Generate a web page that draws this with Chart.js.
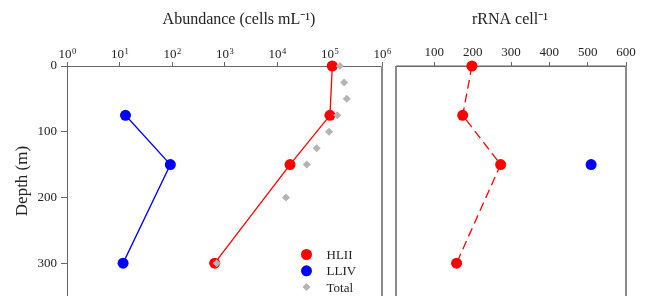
<!DOCTYPE html>
<html lang="en">
<head>
<meta charset="UTF-8">
<title>Abundance and rRNA per cell</title>
<script src="https://cdn.jsdelivr.net/npm/chart.js@4.4.1/dist/chart.umd.min.js"></script>
<style>
  html, body { margin: 0; padding: 0; background: #fff; }
  #wrap { position: relative; width: 648px; height: 296px; overflow: hidden; }
  #abundChart { position: absolute; left: 0; top: 0; }
  #rrnaChart { position: absolute; left: 384px; top: 0; }
</style>
</head>
<body>
<div id="wrap">
  <canvas id="abundChart" width="396" height="296"></canvas>
  <canvas id="rrnaChart" width="264" height="296"></canvas>
</div>
<script>
// depths (m)
const hliiDepths = [0, 75, 150, 300];
const llivDepths = [75, 150, 300];
const totalDepths = [0, 25, 50, 75, 100, 125, 150, 200, 300];
const llivRrnaDepths = [150];

// abundance (cells mL-1)
const hliiAbund = [113000, 102000, 17700, 650];
const llivAbund = [13, 93, 11.7];
const totalAbund = [158000, 190000, 213000, 141000, 98000, 57000, 37000, 14800, 710];

// rRNA per cell
const hliiRrna = [198, 174, 273, 158];
const llivRrna = [509];

// tick labels
const abundTicks = [1, 10, 100, 1000, 10000, 100000, 1000000];
const rrnaTicks = [100, 200, 300, 400, 500, 600];
const depthTicks = [0, 100, 200, 300];

const SERIF = '"Liberation Serif", "Times New Roman", serif';
const RED = '#ff0000', BLUE = '#0000ff', GREY = '#b4b4b4';

const pts = (xs, ys) => xs.map((x, i) => ({x: x, y: ys[i]}));

// side lines of the panel box
const frame = {
  id: 'frame',
  beforeDatasetsDraw(chart, args, opts) {
    const {ctx, chartArea: a} = chart;
    ctx.save();
    (opts.sides || []).forEach(s => {
      ctx.strokeStyle = s.color;
      ctx.lineWidth = s.width;
      ctx.beginPath();
      if (s.side === 'left') { ctx.moveTo(a.left, a.top); ctx.lineTo(a.left, a.bottom); }
      if (s.side === 'right') { ctx.moveTo(a.right, a.top); ctx.lineTo(a.right, a.bottom); }
      if (s.side === 'top') { ctx.moveTo(a.left, a.top); ctx.lineTo(a.right, a.top); }
      ctx.stroke();
    });
    ctx.restore();
  }
};

// panel heading
const heading = {
  id: 'heading',
  afterDraw(chart, args, opts) {
    if (!opts.text) return;
    const ctx = chart.ctx;
    ctx.save();
    ctx.font = '16px ' + SERIF;
    ctx.fillStyle = '#222';
    ctx.textAlign = 'center';
    ctx.textBaseline = 'middle';
    ctx.fillText(opts.text, opts.x, opts.y);
    ctx.restore();
  }
};

// 10^n labels with a real raised exponent
const powerLabels = {
  id: 'powerLabels',
  afterDraw(chart, args, opts) {
    if (!opts.display) return;
    const ctx = chart.ctx, scale = chart.scales.x;
    ctx.save();
    ctx.fillStyle = '#222';
    ctx.textBaseline = 'alphabetic';
    ctx.textAlign = 'left';
    scale.ticks.forEach(t => {
      const exp = String(Math.round(Math.log10(t.value)));
      ctx.font = '13px ' + SERIF;
      const wBase = ctx.measureText('10').width;
      ctx.font = '8.5px ' + SERIF;
      const wExp = ctx.measureText(exp).width;
      const x0 = scale.getPixelForValue(t.value) - (wBase + wExp) / 2;
      ctx.font = '13px ' + SERIF;
      ctx.fillText('10', x0, opts.y);
      ctx.font = '8.5px ' + SERIF;
      ctx.fillText(exp, x0 + wBase + 0.5, opts.y - 4);
    });
    ctx.restore();
  }
};

// legend inside the plot, bottom right
const cornerLegend = {
  id: 'cornerLegend',
  afterDraw(chart, args, opts) {
    if (!opts.display) return;
    const ctx = chart.ctx;
    ctx.save();
    chart.data.datasets.forEach((ds, i) => {
      const x = opts.x, y = opts.y + i * opts.gap;
      ctx.fillStyle = ds.backgroundColor;
      ctx.beginPath();
      if (ds.pointStyle === 'rectRot') {
        const r = ds.pointRadius;
        ctx.moveTo(x - r, y); ctx.lineTo(x, y - r); ctx.lineTo(x + r, y); ctx.lineTo(x, y + r);
        ctx.closePath();
      } else {
        ctx.arc(x, y, ds.pointRadius, 0, Math.PI * 2);
      }
      ctx.fill();
      ctx.font = '13px ' + SERIF;
      ctx.fillStyle = '#222';
      ctx.textAlign = 'left';
      ctx.textBaseline = 'middle';
      ctx.fillText(ds.label, x + 20, y + 1);
    });
    ctx.restore();
  }
};

const tickFont = {family: SERIF, size: 13};

function depthAxis(show) {
  return {
    type: 'linear',
    reverse: true,
    min: 0,
    max: 350,
    display: show,
    afterBuildTicks: s => { s.ticks = depthTicks.map(v => ({value: v})); },
    afterFit: s => {
      if (show) s.width = 67;
      s.paddingTop = 0;
      s.paddingBottom = 0;
    },
    title: {display: show, text: 'Depth (m)', color: '#222', font: {family: SERIF, size: 17}, padding: {top: 12, bottom: 0}},
    ticks: {color: '#222', font: tickFont, padding: 4},
    grid: {drawOnChartArea: false, tickLength: 6, color: '#666'},
    border: {color: '#666', width: 1}
  };
}

new Chart(document.getElementById('abundChart'), {
  type: 'scatter',
  data: {
    datasets: [
      {label: 'HLII', data: pts(hliiAbund, hliiDepths), showLine: true, borderColor: RED, backgroundColor: RED,
        borderWidth: 1.3, pointRadius: 5.5, pointBorderWidth: 0, pointStyle: 'circle', order: 1, clip: false},
      {label: 'LLIV', data: pts(llivAbund, llivDepths), showLine: true, borderColor: BLUE, backgroundColor: BLUE,
        borderWidth: 1.3, pointRadius: 5.5, pointBorderWidth: 0, pointStyle: 'circle', order: 2, clip: false},
      {label: 'Total', data: pts(totalAbund, totalDepths), showLine: false, borderColor: GREY, backgroundColor: GREY,
        pointRadius: 4, pointBorderWidth: 0, pointStyle: 'rectRot', order: 0, clip: false}
    ]
  },
  options: {
    responsive: false,
    animation: false,
    devicePixelRatio: 1,
    layout: {autoPadding: false, padding: {left: 0, right: 14, top: 0, bottom: 0}},
    scales: {
      x: {
        type: 'logarithmic',
        position: 'top',
        min: 1,
        max: 1000000,
        afterBuildTicks: s => { s.ticks = abundTicks.map(v => ({value: v})); },
        afterFit: s => { s.height = 66; s.paddingLeft = 0; s.paddingRight = 0; },
        ticks: {display: false},
        grid: {drawOnChartArea: false, tickLength: 4, color: '#666'},
        border: {color: '#666', width: 1}
      },
      y: depthAxis(true)
    },
    plugins: {
      legend: {display: false},
      tooltip: {enabled: false},
      frame: {sides: [{side: 'right', color: '#8a8a8a', width: 2}]},
      heading: {text: 'Abundance (cells mL⁻¹)', x: 239, y: 20},
      powerLabels: {display: true, y: 58},
      cornerLegend: {display: true, x: 306.5, y: 254.5, gap: 16.3}
    }
  },
  plugins: [frame, heading, powerLabels, cornerLegend]
});

new Chart(document.getElementById('rrnaChart'), {
  type: 'scatter',
  data: {
    datasets: [
      {label: 'HLII', data: pts(hliiRrna, hliiDepths), showLine: true, borderColor: RED, backgroundColor: RED,
        borderWidth: 1.3, borderDash: [9, 5], pointRadius: 5.5, pointBorderWidth: 0, clip: false},
      {label: 'LLIV', data: pts(llivRrna, llivRrnaDepths), showLine: false, borderColor: BLUE, backgroundColor: BLUE,
        pointRadius: 5.5, pointBorderWidth: 0, clip: false}
    ]
  },
  options: {
    responsive: false,
    animation: false,
    devicePixelRatio: 1,
    layout: {autoPadding: false, padding: {left: 12, right: 22, top: 0, bottom: 0}},
    scales: {
      x: {
        type: 'linear',
        position: 'top',
        min: 0,
        max: 600,
        afterBuildTicks: s => { s.ticks = rrnaTicks.map(v => ({value: v})); },
        afterFit: s => { s.height = 66; },
        ticks: {color: '#222', font: tickFont, padding: 2},
        grid: {drawOnChartArea: false, tickLength: 4, color: '#666'},
        border: {color: '#666', width: 1}
      },
      y: depthAxis(false)
    },
    plugins: {
      legend: {display: false},
      tooltip: {enabled: false},
      frame: {sides: [{side: 'left', color: '#8a8a8a', width: 2}, {side: 'top', color: '#666', width: 1},
        {side: 'right', color: '#8a8a8a', width: 2}]},
      heading: {text: 'rRNA cell⁻¹', x: 126, y: 20}
    }
  },
  plugins: [frame, heading]
});
</script>
</body>
</html>
